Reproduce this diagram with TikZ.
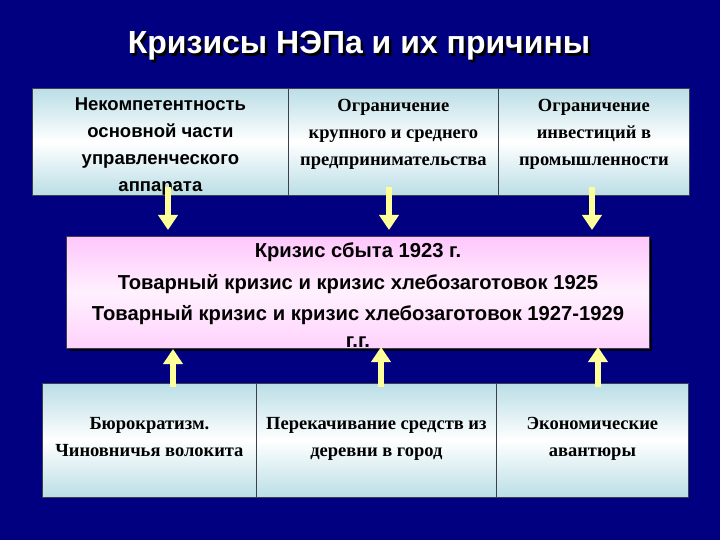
\documentclass[tikz,border=0pt]{standalone}
\usepackage{fontspec}
\setmainfont{Liberation Serif}
\newfontfamily\arialf{Liberation Sans}
\usetikzlibrary{arrows.meta,shadows}
\definecolor{bgnavy}{RGB}{0,0,128}
\definecolor{boxblue}{RGB}{186,222,230}
\definecolor{boxpink}{RGB}{255,198,252}
\definecolor{arrowyel}{RGB}{255,255,153}
\definecolor{edgegray}{RGB}{60,64,76}
\tikzset{
  causebox/.style={draw=edgegray, line width=0.8pt, top color=boxblue, bottom color=boxblue, middle color=white, shading=axis, inner sep=0pt},
  crisisbox/.style={draw=edgegray, line width=0.8pt, top color=boxpink, bottom color=boxpink!80, middle color=boxpink!25, inner sep=0pt, drop shadow={shadow xshift=3pt, shadow yshift=-3pt, fill=black, opacity=0.8}},
  sanstext/.style={font=\arialf\bfseries\fontsize{18.5}{27}\selectfont, align=center, text=black, inner sep=0pt},
  seriftext/.style={font=\bfseries\fontsize{18.5}{27}\selectfont, align=center, text=black, inner sep=0pt},
  midtext/.style={font=\arialf\bfseries\fontsize{20.2}{31.5}\selectfont, align=center, text=black, inner sep=0pt},
  titletext/.style={font=\arialf\bfseries\fontsize{32}{36}\selectfont, inner sep=0pt},
  yarrow/.style={draw=arrowyel, line width=6pt, -{Triangle[width=19pt,length=15pt]}, arrowyel}
}
\begin{document}
\begin{tikzpicture}[x=1pt,y=-1pt]
\fill[bgnavy] (0,0) rectangle (720,540);
\useasboundingbox (0,0) rectangle (720,540);
% title
\node[titletext, text=black] (titleshadow) at (361.5,48.5) {Кризисы НЭПа и их причины};
\node[titletext, text=white] (title) at (359,46) {Кризисы НЭПа и их причины};
% top boxes
\node[causebox, minimum width=256pt, minimum height=107pt, anchor=north west] (t1) at (32,88) {};
\node[causebox, minimum width=210pt, minimum height=107pt, anchor=north west] (t2) at (288,88) {};
\node[causebox, minimum width=191pt, minimum height=107pt, anchor=north west] (t3) at (498,88) {};
\node[sanstext, anchor=north] (t1txt) at (t1.north) [yshift=-10pt] {Некомпетентность\\основной части\\управленческого\\аппарата};
\node[seriftext, anchor=north] (t2txt) at (t2.north) [yshift=-11pt] {Ограничение\\крупного и среднего\\предпринимательства};
\node[seriftext, anchor=north] (t3txt) at (t3.north) [yshift=-11pt] {Ограничение\\инвестиций в\\промышленности};
% middle box
\node[crisisbox, minimum width=583pt, minimum height=112pt, anchor=north west] (mid) at (66,236) {};
\node[midtext, anchor=north] (midtxt) at (358,242.5) {Кризис сбыта 1923 г.\\Товарный кризис и кризис хлебозаготовок 1925\\Товарный кризис и кризис хлебозаготовок 1927-1929\\[-5pt]г.г.};
% bottom boxes
\node[causebox, minimum width=214pt, minimum height=114pt, anchor=north west] (b1) at (42,383) {};
\node[causebox, minimum width=240pt, minimum height=114pt, anchor=north west] (b2) at (256,383) {};
\node[causebox, minimum width=192pt, minimum height=114pt, anchor=north west] (b3) at (496,383) {};
\node[seriftext, anchor=north] (b1txt) at (b1.north) [yshift=-34pt] {Бюрократизм.\\Чиновничья волокита};
\node[seriftext, anchor=north] (b2txt) at (b2.north) [yshift=-34pt] {Перекачивание средств из\\деревни в город};
\node[seriftext, anchor=north] (b3txt) at (b3.north) [yshift=-34pt] {Экономические\\авантюры};
% arrows down
\coordinate (d1s) at (168,187); \coordinate (d1e) at (168,230);
\coordinate (d2s) at (389,187); \coordinate (d2e) at (389,230);
\coordinate (d3s) at (592,187); \coordinate (d3e) at (592,230);
\draw[yarrow] (d1s) -- (d1e);
\draw[yarrow] (d2s) -- (d2e);
\draw[yarrow] (d3s) -- (d3e);
% arrows up
\coordinate (u1s) at (173,387); \coordinate (u1e) at (173,349);
\coordinate (u2s) at (381,387); \coordinate (u2e) at (381,347);
\coordinate (u3s) at (598,387); \coordinate (u3e) at (598,347);
\draw[yarrow] (u1s) -- (u1e);
\draw[yarrow] (u2s) -- (u2e);
\draw[yarrow] (u3s) -- (u3e);
\end{tikzpicture}
\end{document}
